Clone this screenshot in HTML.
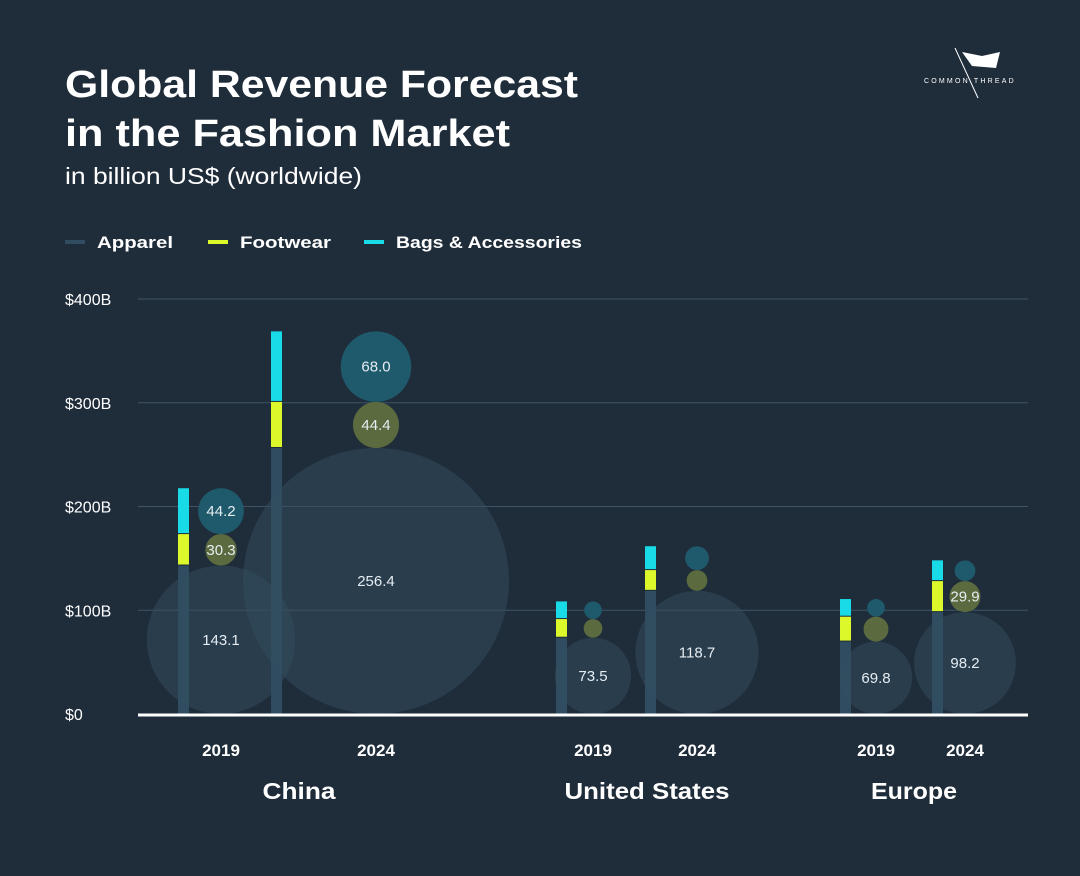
<!DOCTYPE html>
<html><head><meta charset="utf-8"><style>
body{margin:0;background:#1f2c3a;width:1080px;height:871px;overflow:hidden;font-family:"Liberation Sans",sans-serif}
</style></head><body>
<svg width="1080" height="871" xmlns="http://www.w3.org/2000/svg">
<rect width="1080" height="871" fill="#1f2c3a"/>
<text x="65" y="97" fill="#fff" font-size="38" font-weight="bold" textLength="513" lengthAdjust="spacingAndGlyphs">Global Revenue Forecast</text>
<text x="65" y="146" fill="#fff" font-size="38" font-weight="bold" textLength="445" lengthAdjust="spacingAndGlyphs">in the Fashion Market</text>
<text x="65" y="184" fill="#fff" font-size="23" textLength="297" lengthAdjust="spacingAndGlyphs">in billion US$ (worldwide)</text>
<g>
<polygon points="962,52 982,56 1000,52 996,68 972,66" fill="#fff"/>
<line x1="955" y1="48" x2="978" y2="98" stroke="#fff" stroke-width="1"/>
<text x="924" y="83" fill="#fff" font-size="7" letter-spacing="2.2">COMMON THREAD</text>
</g>
<g font-size="17" font-weight="bold" fill="#fff">
<g><rect x="65" y="240" width="20" height="4" fill="#2f4c61"/><text x="97" y="248" textLength="76" lengthAdjust="spacingAndGlyphs">Apparel</text></g>
<g><rect x="208" y="240" width="20" height="4" fill="#dcf72a"/><text x="240" y="248" textLength="91" lengthAdjust="spacingAndGlyphs">Footwear</text></g>
<g><rect x="364" y="240" width="20" height="4" fill="#19dbe8"/><text x="396" y="248" textLength="186" lengthAdjust="spacingAndGlyphs">Bags &amp; Accessories</text></g>
</g>
<g id="grid"></g><g id="marks"></g>
</svg>
<script>
const yTicks=[0,100,200,300,400];
const tickLabels=["$0","$100B","$200B","$300B","$400B"];
const groups=["China","United States","Europe"];
const years=["2019","2024","2019","2024","2019","2024"];
const apparel=[143.1,256.4,73.5,118.7,69.8,98.2];
const footwear=[30.3,44.4,18,20,24,29.9];
const bags=[44.2,68.0,17,23,17,20];
const showFoot=[true,true,false,false,false,true];
const showBags=[true,true,false,false,false,false];
const NS="http://www.w3.org/2000/svg";
const y0=714,k=(714-299)/400;
const y=v=>y0-v*k;
const barX=[178,271,556,645,840,932];
const cX=[221,376,593,697,876,965];
const groupX=[299,647,914];
const groupW=[73,165,86];
function mk(t,a,p){const e=document.createElementNS(NS,t);for(const n in a)e.setAttribute(n,a[n]);p.appendChild(e);return e;}
const grid=document.getElementById('grid'),marks=document.getElementById('marks');
yTicks.forEach((t,i)=>{
 if(t>0){const l=mk('line',{x1:138,x2:1028,y1:y(t),y2:y(t),stroke:'#3f5466','stroke-width':1},grid);
 
 }
 const tx=mk('text',{x:65,y:y(t)+6,fill:'#fff','font-size':16},grid);tx.textContent=tickLabels[i];
 
 
});
apparel.forEach((a,i)=>{
 const f=footwear[i],b=bags[i],bx=barX[i],cx=cX[i];
 let r=mk('rect',{x:bx,y:y(a),width:11,height:a*k,fill:'#2f4c61'},marks);
 
 
 r=mk('rect',{x:bx,y:y(a+f),width:11,height:f*k-1,fill:'#dcf72a'},marks);
 
 
 r=mk('rect',{x:bx,y:y(a+f+b),width:11,height:b*k-1,fill:'#19dbe8'},marks);
 
 
 const circ=[[a/2,a,'rgba(52,77,95,0.5)',true],[a+f/2,f,'#5b6b3f',showFoot[i]],[a+f+b/2,b,'#1e5a6b',showBags[i]]];
 circ.forEach((c,j)=>{
  const e=mk('circle',{cx:cx,cy:y(c[0]),r:c[1]*k/2,fill:c[2]},marks);
  
  
  if(c[3]){
   const t=mk('text',{x:cx,y:y(c[0])+5,fill:'#e6edf2','font-size':15,'text-anchor':'middle'},marks);
   t.textContent=c[1].toFixed(1);
   
   
  }
 });
 const yt=mk('text',{x:cx,y:756,fill:'#fff','font-size':17,'font-weight':'bold','text-anchor':'middle'},marks);
 yt.textContent=years[i];
 
 
});
groups.forEach((g,i)=>{
 const t=mk('text',{x:groupX[i],y:799,fill:'#fff','font-size':23,'font-weight':'bold','text-anchor':'middle',textLength:groupW[i],lengthAdjust:'spacingAndGlyphs'},marks);
 t.textContent=g;
 
 
});
const base=mk('line',{x1:138,x2:1028,y1:y0+1,y2:y0+1,stroke:'#fff','stroke-width':3},marks);


</script>
</body></html>
